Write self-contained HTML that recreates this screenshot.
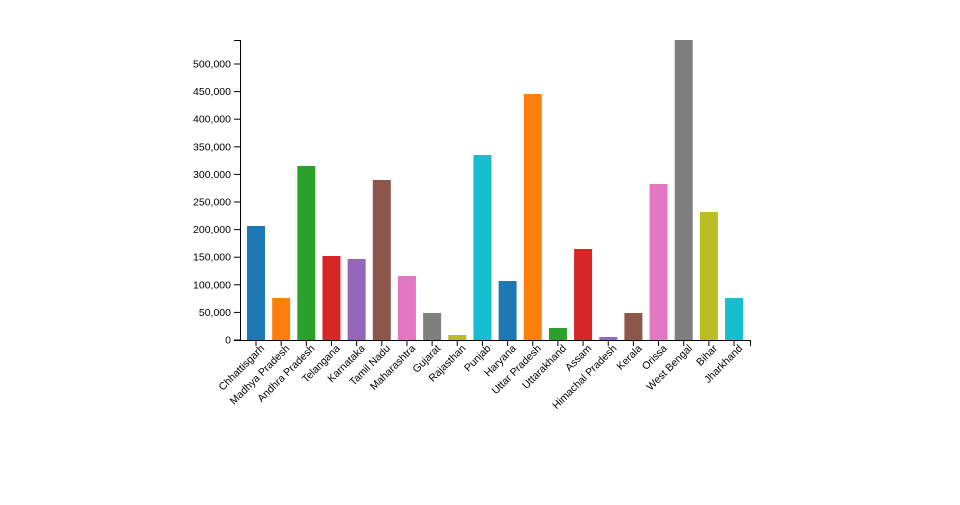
<!DOCTYPE html>
<html><head><meta charset="utf-8"><style>
html,body{margin:0;background:#fff;}
svg text{font-family:"Liberation Sans",sans-serif;font-size:10.5px;fill:#000;}
</style></head><body>
<svg width="960" height="500" xmlns="http://www.w3.org/2000/svg">
<g id="bars"></g>
<g stroke="#000" fill="none" shape-rendering="crispEdges">
<path d="M234,40.5H240.5V340.5H234"/>
<path d="M240,340.5H750.5V346"/>
</g>
<g id="y" text-anchor="end"></g>
<g id="x"></g>
</svg>
<script>
var names=["Chhattisgarh","Madhya Pradesh","Andhra Pradesh","Telangana","Karnataka","Tamil Nadu","Maharashtra","Gujarat","Rajasthan","Punjab","Haryana","Uttar Pradesh","Uttarakhand","Assam","Himachal Pradesh","Kerala","Orissa","West Bengal","Bihar","Jharkhand"];
var tops=[226,298,166,256,259,180,276,313,335,155,281,94,328,249,337,313,184,40,212,298];
var cols=["#1f77b4","#ff7f0e","#2ca02c","#d62728","#9467bd","#8c564b","#e377c2","#7f7f7f","#bcbd22","#17becf"];
var b="",x="",y="";
for(var i=0;i<20;i++){var c=256+25.16*i;
b+='<rect x="'+(c-9)+'" y="'+tops[i]+'" width="18" height="'+(340-tops[i])+'" fill="'+cols[i%10]+'"/>';
x+='<line x1="'+c+'" x2="'+c+'" y1="340" y2="346" stroke="#000"/>';
x+='<text text-anchor="end" transform="translate('+(c+9)+',349) rotate(-45)">'+names[i]+'</text>';}
for(var v=0;v<=500000;v+=50000){var py=340-v*276/500000;
y+='<line x1="234" x2="240" y1="'+py+'" y2="'+py+'" stroke="#000"/>';
y+='<text x="231" y="'+(py+3.5)+'">'+v.toLocaleString("en-US")+'</text>';}
document.getElementById("bars").innerHTML=b;
document.getElementById("x").innerHTML=x;
document.getElementById("y").innerHTML=y;
</script>
</body></html>
